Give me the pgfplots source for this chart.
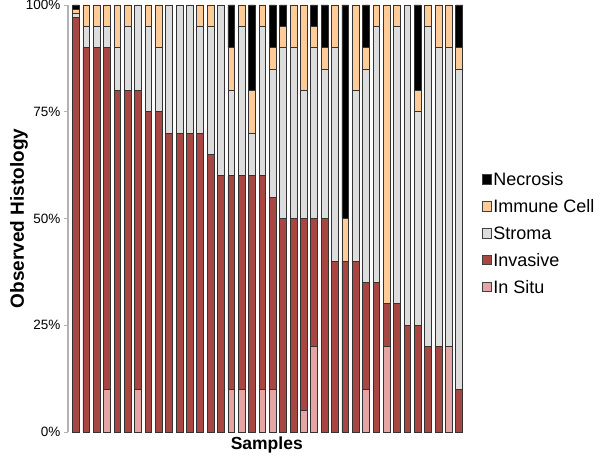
\documentclass[border=0pt]{standalone}
\usepackage{pgfplots}
\pgfplotsset{compat=1.18}
\usepackage{pgfplotstable}
\usepackage{fontspec}
\setmainfont{Liberation Sans}

\definecolor{cNec}{HTML}{000000}
\definecolor{cImm}{HTML}{FFCC99}
\definecolor{cStr}{HTML}{DDDDDD}
\definecolor{cInv}{HTML}{A84742}
\definecolor{cSitu}{HTML}{E6A5A5}

\pgfplotstableread{
x insitu invasive stroma immune necrosis
1 0 97 1 1 1
2 0 90 5 5 0
3 0 90 5 5 0
4 10 80 5 5 0
5 0 80 10 10 0
6 0 80 15 5 0
7 10 70 20 0 0
8 0 75 20 5 0
9 0 75 15 10 0
10 0 70 30 0 0
11 0 70 30 0 0
12 0 70 30 0 0
13 0 70 25 5 0
14 0 65 30 5 0
15 0 60 40 0 0
16 10 50 20 10 10
17 10 50 35 5 0
18 0 60 10 10 20
19 10 50 35 5 0
20 10 45 30 5 10
21 0 50 40 5 5
22 0 50 40 10 0
23 5 45 30 20 0
24 20 30 40 5 5
25 0 50 35 5 10
26 0 40 50 10 0
27 0 40 0 10 50
28 0 40 40 20 0
29 10 25 50 5 10
30 0 35 60 5 0
31 20 10 0 70 0
32 0 30 65 5 0
33 0 25 75 0 0
34 0 25 50 5 20
35 0 20 75 5 0
36 0 20 70 10 0
37 20 0 70 10 0
38 0 10 75 5 10
}\data

\begin{document}
\begin{tikzpicture}
\begin{axis}[
  scale only axis, width=397.5pt, height=427pt,
  xmin=0.23, xmax=38.6, ymin=0, ymax=100,
  ybar stacked, bar width=6.8pt,
  axis lines*=left,
  x axis line style={draw=none},
  xtick=\empty,
  y axis line style={draw=gray!60, line width=1.4pt},
  ytick={0,25,50,75,100},
  yticklabels={0\%,25\%,50\%,75\%,100\%},
  tick align=outside, major tick length=4pt,
  ytick style={draw=gray!60, line width=0.8pt},
  yticklabel style={font=\fontsize{13.5}{16}\selectfont},
  xlabel={Samples}, ylabel={Observed Histology},
  xlabel style={font=\bfseries\fontsize{17.5}{20}\selectfont, at={(axis description cs:0.5,-0.03)}, anchor=center},
  ylabel style={font=\bfseries\fontsize{19}{22}\selectfont, at={(axis description cs:-0.123,0.5)}, anchor=center},
  clip=false,
  reverse legend,
  legend cell align=left,
  legend image code/.code={\draw[#1, draw=black!75, line width=0.8pt] (0pt,-4.5pt) rectangle (9.5pt,5pt);},
  legend style={at={(axis description cs:1.04,0.612)}, anchor=north west, draw=none, fill=none,
    font=\fontsize{18}{21}\selectfont, row sep=9.5pt, inner sep=0pt,
    nodes={inner sep=1.5pt}},
  bstyle/.style={draw=black!80, line width=0.8pt},
]
\addplot[bstyle, fill=cSitu] table[x=x, y=insitu]{\data};
\addplot[bstyle, fill=cInv] table[x=x, y=invasive]{\data};
\addplot[bstyle, fill=cStr] table[x=x, y=stroma]{\data};
\addplot[bstyle, fill=cImm] table[x=x, y=immune]{\data};
\addplot[bstyle, fill=cNec] table[x=x, y=necrosis]{\data};
\legend{In Situ, Invasive, Stroma, Immune Cell, Necrosis}
\end{axis}
\pgfresetboundingbox
\useasboundingbox (-68pt,-25pt) rectangle (532pt,432pt);
\end{tikzpicture}
\end{document}
